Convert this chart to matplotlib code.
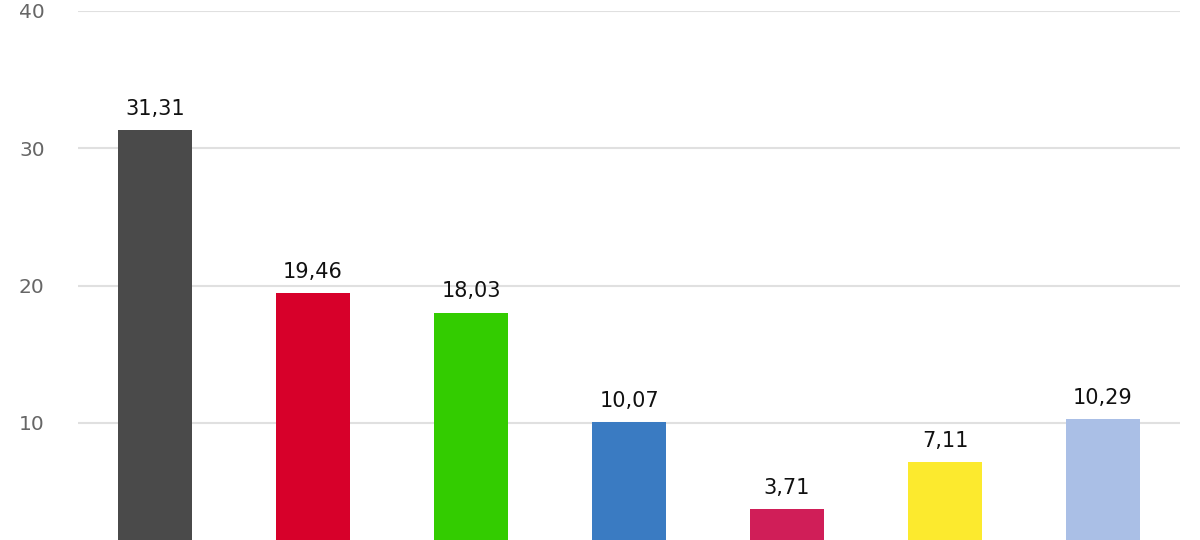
import matplotlib
matplotlib.use("Agg")
import matplotlib.pyplot as plt

plt.rcParams["font.family"] = ["DejaVu Sans"]

categories = ["A", "B", "C", "D", "E", "F", "G"]
values = [31.31, 19.46, 18.03, 10.07, 3.71, 7.11, 10.29]
colors = ["#4a4a4a", "#d7002a", "#33cc00", "#3a7bc2", "#d01e58", "#fcea2e", "#aabfe6"]
yticks = [10, 20, 30, 40]

W, H = 1200, 540
fig = plt.figure(figsize=(W / 100, H / 100), dpi=100)
# axes placed so that 0 lies just below the picture edge (cropped chart)
left, right = 78, 1180
top_px, zero_px = 11, 560
ax = fig.add_axes([left / W, (H - zero_px) / H, (right - left) / W, (zero_px - top_px) / H])

x = list(range(len(categories)))
ax.bar(x, values, width=0.468, color=colors, zorder=3)
for xi, v in zip(x, values):
    ax.annotate(f"{v:.2f}".replace(".", ","), (xi, v), xytext=(0, 8),
                textcoords="offset points", ha="center", va="bottom",
                fontsize=15, color="#111111")

ax.set_xlim(-0.487, len(categories) - 1 + 0.487)
ax.set_ylim(0, 40)
ax.set_yticks(yticks)
ax.set_yticklabels([str(t) for t in yticks], fontsize=14.5, color="#666666")
ax.set_xticks([])
ax.grid(axis="y", color="#e0e0e0", linewidth=1.5, zorder=0)
for s in ax.spines.values():
    s.set_visible(False)
ax.tick_params(axis="y", length=0, pad=24)

fig.savefig("out.png", dpi=100)
